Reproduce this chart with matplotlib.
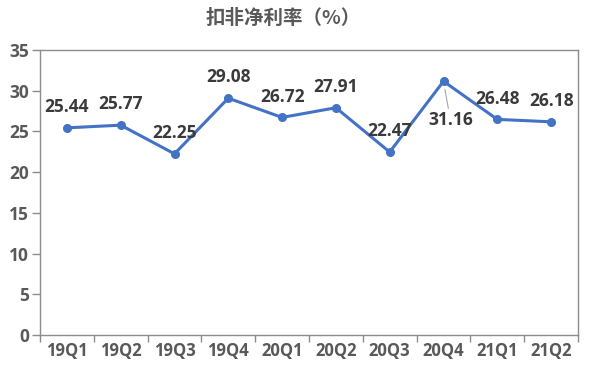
import matplotlib
matplotlib.use("Agg")
import matplotlib.pyplot as plt
from matplotlib.ticker import FixedLocator, NullFormatter

plt.rcParams['font.family'] = ['Open Sans', 'Noto Sans CJK SC', 'DejaVu Sans']

categories = ["19Q1", "19Q2", "19Q3", "19Q4", "20Q1", "20Q2", "20Q3", "20Q4", "21Q1", "21Q2"]
values = [25.44, 25.77, 22.25, 29.08, 26.72, 27.91, 22.47, 31.16, 26.48, 26.18]
yticks = [0, 5, 10, 15, 20, 25, 30, 35]
title = "扣非净利率（%）"

W, H = 592, 374
fig = plt.figure(figsize=(W / 100, H / 100), dpi=100)
ax = fig.add_axes([40 / W, 1 - 335 / H, (578 - 40) / W, (335 - 50) / H])

x = list(range(len(categories)))
line_color = "#4472C4"
ax.plot(x, values, color=line_color, lw=2.2, marker="o", markersize=5.5,
        markerfacecolor=line_color, markeredgecolor=line_color, solid_joinstyle="round")

ax.set_xlim(-0.5, len(categories) - 0.5)
ax.set_ylim(0, 35)
ax.set_yticks(yticks)
ax.set_yticklabels([str(t) for t in yticks])

ax.xaxis.set_major_locator(FixedLocator([i - 0.5 for i in range(len(categories) + 1)]))
ax.xaxis.set_major_formatter(NullFormatter())
ax.xaxis.set_minor_locator(FixedLocator(x))
ax.set_xticklabels(categories, minor=True)
ax.tick_params(axis="x", which="major", length=5, width=1, color="#8c8c8c", direction="out")
ax.tick_params(axis="x", which="minor", length=0, pad=5, labelsize=12, labelcolor="#595959")
ax.tick_params(axis="y", length=6, width=1, color="#8c8c8c", direction="out", pad=2,
               labelsize=12.5, labelcolor="#595959")
for lab in ax.get_xticklabels(minor=True) + ax.get_yticklabels():
    lab.set_fontweight("bold")

for s in ax.spines.values():
    s.set_color("#8c8c8c")
    s.set_linewidth(1.0)

label_color = "#3a3a3a"
for i, v in enumerate(values):
    if categories[i] == "20Q4":
        ax.annotate(f"{v:.2f}", xy=(i, v), xytext=(5, -28), textcoords="offset points",
                    ha="center", va="center", fontsize=12.5, fontweight="bold", color=label_color,
                    arrowprops=dict(arrowstyle="-", color="#a6a6a6", lw=0.8, shrinkA=0, shrinkB=6))
    else:
        ax.annotate(f"{v:.2f}", xy=(i, v), xytext=(0, 15), textcoords="offset points",
                    ha="center", va="center", fontsize=12.5, fontweight="bold", color=label_color)

fig.text(283 / W, 1 - 18 / H, title, ha="center", va="center", fontsize=14,
         fontweight="bold", color="#595959", family=['Noto Sans CJK SC', 'DejaVu Sans'])

fig.savefig("out.png", dpi=100)
